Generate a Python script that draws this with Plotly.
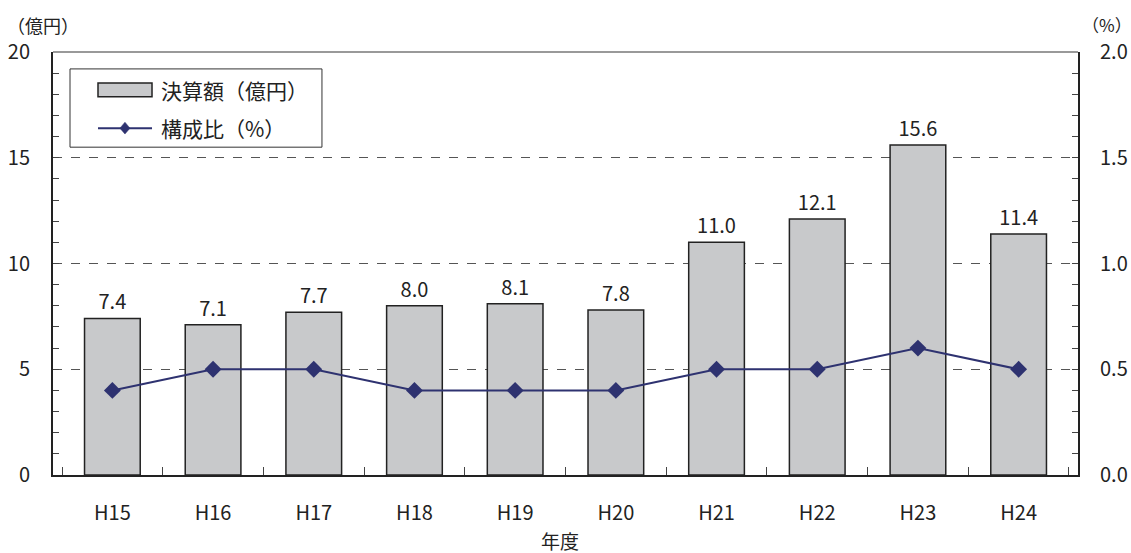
import plotly.graph_objects as go

years = ["H15", "H16", "H17", "H18", "H19", "H20", "H21", "H22", "H23", "H24"]
amount = [7.4, 7.1, 7.7, 8.0, 8.1, 7.8, 11.0, 12.1, 15.6, 11.4]
ratio = [0.4, 0.5, 0.5, 0.4, 0.4, 0.4, 0.5, 0.5, 0.6, 0.5]
bar_name = "決算額（億円）"
line_name = "構成比（%）"

FONT = "Noto Sans CJK JP, Liberation Sans, sans-serif"
NAVY = "#2e3270"
INK = "#222222"

fig = go.Figure()
fig.add_trace(go.Bar(
    x=years, y=amount, name=bar_name, width=0.553,
    marker=dict(color="#c8c9cb", line=dict(color=INK, width=1.5)),
    text=[f"{v:.1f}" for v in amount], textposition="outside",
    textfont=dict(size=20, color=INK, family=FONT),
    cliponaxis=False, showlegend=False,
))
fig.add_trace(go.Scatter(
    x=years, y=ratio, name=line_name, yaxis="y2", mode="lines+markers",
    line=dict(color=NAVY, width=2),
    marker=dict(symbol="diamond", size=13, color=NAVY),
    showlegend=False,
))

fig.update_layout(
    width=1131, height=553,
    margin=dict(l=53, r=53, t=52, b=78, autoexpand=False),
    plot_bgcolor="white", paper_bgcolor="white",
    font=dict(family=FONT, size=20, color=INK),
    xaxis=dict(
        showline=True, linecolor=INK, linewidth=2, automargin=False,
        ticks="inside", tickson="boundaries", ticklen=8, tickcolor="#444444",
        tickfont=dict(size=20), ticklabelstandoff=19,
    ),
    yaxis=dict(
        range=[0, 20], dtick=5, showline=True, linecolor=INK, linewidth=2, automargin=False,
        ticks="inside", ticklen=6, tickcolor="#444444",
        showgrid=True, gridcolor="#555555", griddash="dash", gridwidth=1,
        minor=dict(dtick=1, ticks="inside", ticklen=6, tickcolor="#444444", showgrid=False),
        tickfont=dict(size=20), zeroline=False, ticklabelstandoff=17,
    ),
    yaxis2=dict(
        range=[0, 2], dtick=0.5, tickformat=".1f", overlaying="y", side="right",
        showline=True, linecolor=INK, linewidth=2, automargin=False,
        ticks="inside", ticklen=6, tickcolor="#444444",
        minor=dict(dtick=0.1, ticks="inside", ticklen=6, tickcolor="#444444", showgrid=False),
        showgrid=False, tickfont=dict(size=20), zeroline=False, ticklabelstandoff=16,
    ),
    shapes=[
        dict(type="line", xref="paper", yref="paper", x0=0, x1=1, y0=1, y1=1,
             line=dict(color="#777777", width=1.5)),
        dict(type="rect", xref="paper", yref="paper", x0=0.0166, x1=0.2624, y0=0.775, y1=0.96,
             line=dict(color="#333333", width=1), fillcolor="white"),
        dict(type="rect", xref="paper", yref="paper", x0=0.0439, x1=0.0966, y0=0.894, y1=0.927,
             line=dict(color=INK, width=1.5), fillcolor="#c8c9cb"),
        dict(type="line", xref="paper", yref="paper", x0=0.0439, x1=0.0966, y0=0.82, y1=0.82,
             line=dict(color=NAVY, width=2)),
        dict(type="path", xref="paper", yref="paper",
             path="M 0.0702,0.834 L 0.0751,0.82 L 0.0702,0.806 L 0.0653,0.82 Z",
             fillcolor=NAVY, line=dict(color=NAVY, width=0.5)),
    ],
    annotations=[
        dict(text=bar_name, xref="paper", yref="paper", x=0.1034, y=0.910, xanchor="left",
             yanchor="middle", showarrow=False, font=dict(size=21)),
        dict(text=line_name, xref="paper", yref="paper", x=0.1034, y=0.82, xanchor="left",
             yanchor="middle", showarrow=False, font=dict(size=21)),
        dict(text="（億円）", xref="paper", yref="paper", x=-0.047, y=1.064, xanchor="left",
             yanchor="middle", showarrow=False, font=dict(size=18)),
        dict(text="（%）", xref="paper", yref="paper", x=1.002, y=1.064, xanchor="left",
             yanchor="middle", showarrow=False, font=dict(size=17)),
        dict(text="年度", xref="paper", yref="paper", x=0.4946, y=-0.156, xanchor="center",
             yanchor="middle", showarrow=False, font=dict(size=19)),
    ],
)

fig.write_html(
    "out.html",
    config={"displayModeBar": False},
    post_script="document.body.style.margin='0';document.body.style.overflow='hidden';",
)
